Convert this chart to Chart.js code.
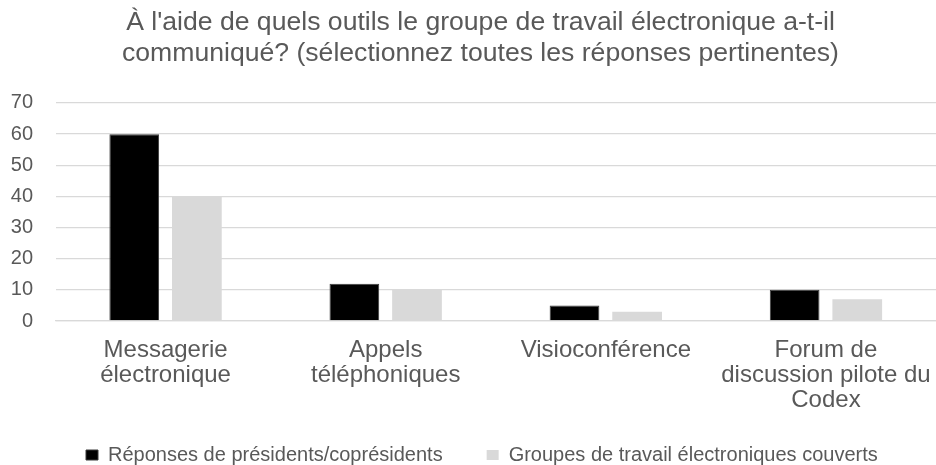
<!DOCTYPE html>
<html>
<head>
<meta charset="utf-8">
<script src="https://cdn.jsdelivr.net/npm/chart.js@4.4.0/dist/chart.umd.min.js"></script>
<style>
  body { margin: 0; background: #fff; }
  #wrap { width: 936px; height: 465px; }
</style>
</head>
<body>
<div id="wrap"><canvas id="chart" width="936" height="465"></canvas></div>
<script>
const categories = [
  ['Messagerie', 'électronique'],
  ['Appels', 'téléphoniques'],
  ['Visioconférence'],
  ['Forum de', 'discussion pilote du', 'Codex']
];
const presidents = [60, 12, 5, 10];
const groupes = [40, 10, 3, 7];
const seriesNames = ['Réponses de présidents/coprésidents', 'Groupes de travail électroniques couverts'];
const titleLines = [
  "À l'aide de quels outils le groupe de travail électronique a-t-il",
  "communiqué? (sélectionnez toutes les réponses pertinentes)"
];

const grey = '#595959';
const font = 'Liberation Sans, Arial, sans-serif';

// place title and legend where they sit in the original
const nudge = {
  id: 'nudge',
  afterLayout(chart) {
    const tb = chart.titleBlock;
    const tdx = 480.5 - (tb.left + tb.right) / 2;
    tb.left += tdx;
    tb.right += tdx;

    const lg = chart.legend;
    const p = lg.options.labels.padding;
    const x0 = (lg.left + p + lg.right - lg.lineWidths[0]) / 2;
    const dx = 86 - x0;
    const dy = 455 - (lg.top + p + 10);
    lg.left += dx;
    lg.right += dx;
    lg.top += dy;
    lg.bottom += dy;
  }
};

new Chart(document.getElementById('chart'), {
  type: 'bar',
  data: {
    labels: categories,
    datasets: [
      { label: seriesNames[0], data: presidents, backgroundColor: '#000000', borderColor: '#3a3a3a', borderWidth: 1 },
      { label: seriesNames[1], data: groupes, backgroundColor: '#d9d9d9' }
    ]
  },
  plugins: [nudge],
  options: {
    responsive: false,
    animation: false,
    datasets: { bar: { categoryPercentage: 0.569, barPercentage: 0.794 } },
    layout: { padding: { left: 10, right: -6, top: 7.5, bottom: -38.9 } },
    plugins: {
      title: {
        display: true,
        text: titleLines,
        color: grey,
        font: { family: font, size: 26.6, weight: 'normal', lineHeight: 1.165 },
        padding: { top: 0, bottom: 33.5 }
      },
      legend: {
        position: 'bottom',
        labels: {
          color: grey,
          boxWidth: 12,
          boxHeight: 10,
          padding: 44,
          font: { family: font, size: 20 }
        }
      },
      tooltip: { enabled: false }
    },
    scales: {
      x: {
        grid: { display: false, drawTicks: false },
        border: { display: true, color: '#d9d9d9', width: 1.3 },
        afterFit(scale) { scale.paddingLeft = 0; scale.paddingRight = 0; },
        ticks: {
          color: grey,
          maxRotation: 0,
          autoSkip: false,
          padding: 17,
          font: { family: font, size: 24, lineHeight: 1.04 }
        }
      },
      y: {
        min: 0,
        max: 70,
        grid: { color: '#d9d9d9', lineWidth: 1.3, drawTicks: false },
        border: { display: false },
        afterFit(scale) { scale.width = 45.5; },
        ticks: {
          stepSize: 10,
          color: grey,
          padding: 22.5,
          font: { family: font, size: 20 }
        }
      }
    }
  }
});
</script>
</body>
</html>
